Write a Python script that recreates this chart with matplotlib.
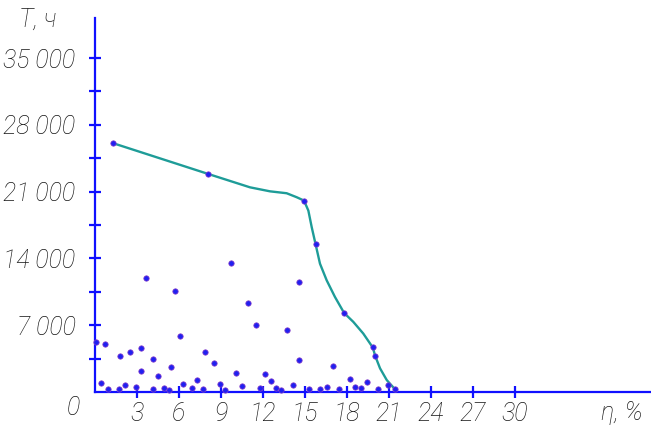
import numpy as np
import matplotlib
matplotlib.use("Agg")
import matplotlib.pyplot as plt

# curve and its marked points
curve_eta = [1.26, 8.09, 11.07, 12.5, 13.69, 14.41, 14.93, 15.24, 15.48, 15.76, 16.07,
             16.55, 17.14, 17.79, 18.45, 19.16, 19.84, 20.02, 20.36, 20.84, 21.43]
curve_T = [26090, 22850, 21450, 21030, 20830, 20410, 20060, 19010, 17270, 15460, 13450,
           11700, 9960, 8290, 7350, 6130, 4670, 3760, 2480, 1250, 280]
mark_eta = [1.26, 8.09, 14.93, 15.76, 17.79, 19.84, 20.02, 21.43]
mark_T = [26090, 22850, 20060, 15460, 8290, 4670, 3760, 280]

# scattered measurements
pts_eta = [0.09, 0.74, 1.79, 2.5, 3.26, 3.66, 4.12, 3.26, 4.5, 0.45, 0.93, 1.69, 2.12, 2.95,
           4.14, 4.93, 5.71, 9.71, 6.1, 7.88, 8.52, 5.43, 10.07, 7.29, 6.31, 8.93, 10.52,
           5.3, 6.9, 7.74, 9.29, 10.93, 11.52, 13.74, 14.55, 14.55, 12.12, 12.55, 14.12,
           11.76, 12.93, 13.3, 15.26, 16.1, 16.98, 18.19, 19.4, 16.6, 18.6, 18.98, 20.93,
           17.43, 20.2]
pts_T = [5250, 4980, 3800, 4180, 4600, 11990, 3480, 2230, 1670, 970, 350, 280, 700, 560,
         280, 420, 10550, 13550, 5850, 4180, 3000, 2610, 1990, 1290, 870, 870, 630,
         180, 390, 280, 180, 9370, 7000, 6550, 11500, 3340, 1850, 1150, 770,
         420, 390, 210, 280, 280, 2690, 1390, 1040, 560, 560, 420, 700,
         280, 280]

x_ticks = [3, 6, 9, 12, 15, 18, 21, 24, 27, 30]
y_ticks = [7000, 14000, 21000, 28000, 35000]
y_labels = ["7 000", "14 000", "21 000", "28 000", "35 000"]

FONT = ["Roboto", "DejaVu Sans"]
FS = 18
AX = "#1010ff"
INK = "#151515"
txt = dict(family=FONT, style="italic", weight="light", fontsize=FS, color=INK)

fig = plt.figure(figsize=(6.51, 4.29), dpi=100)
ax = fig.add_axes([95 / 651, 37 / 429, 556 / 651, 374 / 429])
ax.set_xlim(0, 556 / 14)
ax.set_ylim(0, 374 * 104.8)

ax.plot(curve_eta, curve_T, color="#1e9c98", lw=1.7, zorder=2)
ax.plot(pts_eta, pts_T, "o", ms=3.9, color="#2020f0", mec="#8a3fc8", mew=0.5,
        zorder=3, clip_on=False)
ax.plot(mark_eta, mark_T, "o", ms=3.9, color="#2020f0", mec="#8a3fc8", mew=0.5,
        zorder=3, clip_on=False)

for s in ["top", "right"]:
    ax.spines[s].set_visible(False)
for s in ["left", "bottom"]:
    ax.spines[s].set_color(AX)
    ax.spines[s].set_linewidth(1.6)
    ax.spines[s].set_zorder(1)

ax.set_xticks(x_ticks)
ax.set_xticklabels([str(v) for v in x_ticks], **txt)
ax.set_yticks(y_ticks)
ax.set_yticklabels(y_labels, **txt)
ax.set_yticks([3500, 10500, 17500, 24500, 31500], minor=True)
ax.tick_params(axis="both", which="both", direction="inout", color=AX,
               width=1.6, length=8)
ax.tick_params(axis="y", pad=10)
ax.tick_params(axis="x", pad=3)

fig.text(73 / 651, 1 - 408 / 429, "0", ha="center", va="center", **txt)
fig.text(38 / 651, 1 - 20 / 429, "T, ч", ha="center", va="center", **txt)
fig.text(622 / 651, 1 - 413 / 429, "η, %", ha="center", va="center", **txt)

fig.savefig("out.png", dpi=100)
